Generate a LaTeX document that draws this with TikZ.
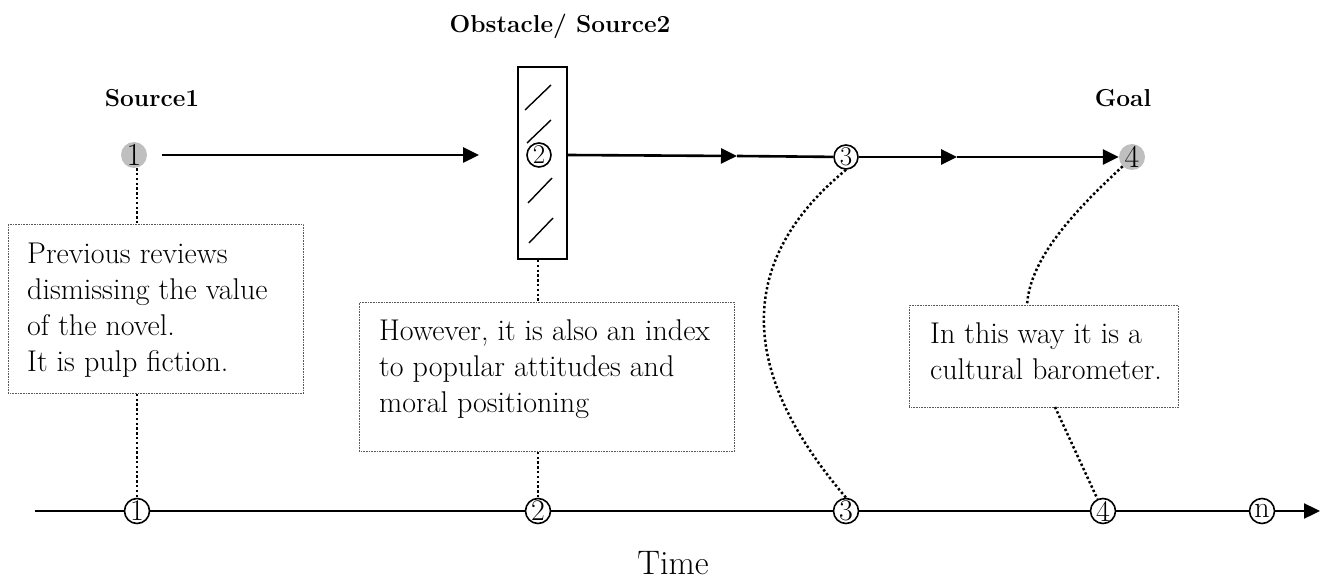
\documentclass[tikz,border=0pt]{standalone}
\usetikzlibrary{arrows.meta}
\begin{document}
\begin{tikzpicture}[x=1pt,y=-1pt,
  mainline/.style={line width=2.6pt},
  tip/.style={-{Triangle[length=16pt,width=15pt]}},
  dotline/.style={line width=2.5pt,dash pattern=on 2.4pt off 2.4pt},
  boxst/.style={draw=black!65,line width=0.8pt,dash pattern=on 0.9pt off 0.7pt,inner sep=0,anchor=north west},
  txt/.style={font=\fontsize{30}{36}\selectfont,align=left,inner sep=0,anchor=north west},
  lbl/.style={font=\bfseries\fontsize{24.5}{28}\selectfont,inner sep=0},
  gcirc/.style={circle,fill=black!25,minimum size=26pt,inner sep=0,font=\fontsize{32}{32}\selectfont},
  ocirc/.style={circle,draw,fill=white,line width=1.6pt,minimum size=24pt,inner sep=0,font=\fontsize{27}{27}\selectfont},
  acirc/.style={circle,draw,fill=white,line width=1.6pt,minimum size=25pt,inner sep=0,font=\fontsize{30}{30}\selectfont},
  obststyle/.style={draw,line width=1.8pt,minimum width=49pt,minimum height=192pt,inner sep=0},
  hatch/.style={line width=1.4pt}
]
\useasboundingbox (0,0) rectangle (1329,580);

% labels
\node[lbl,anchor=base] (src1) at (152,107) {Source1};
\node[lbl,anchor=base] (obsl) at (560,33) {Obstacle/ Source2};
\node[lbl,anchor=base] (goal) at (1123,107) {Goal};

% top row
\node[gcirc] (n1) at (134,155) {1};
\node[obststyle] (obst) at (542.5,163) {};
\draw[hatch] (525,110) -- (551,85);
\draw[hatch] (527,143) -- (551,120);
\draw[hatch] (528,203) -- (552,178);
\draw[hatch] (529,243) -- (553,218);
\node[ocirc] (c2) at (539,155) {2};
\node[ocirc] (c3) at (846,157) {3};
\node[gcirc] (n4) at (1132,157) {4};

\coordinate (s1) at (162,155);
\coordinate (e1) at (479,155);
\coordinate (m1) at (737,156);
\coordinate (m2) at (957,157);

\draw[mainline,tip] (s1) -- (e1);
\draw[mainline,tip] (obst.east |- c2) -- (m1);
\draw[mainline] (m1) -- (c3);
\draw[mainline,tip] (c3) -- (m2);
\draw[mainline,tip] (m2) -- (n4);

% boxes
\node[boxst,minimum width=295pt,minimum height=169pt] (b1) at (8,224) {};
\node[boxst,minimum width=375pt,minimum height=149pt] (b2) at (359,302) {};
\node[boxst,minimum width=269pt,minimum height=102pt] (b3) at (909,305) {};
\node[txt] (t1) at (27,243) {Previous reviews\\dismissing the value\\of the novel.\\It is pulp fiction.};
\node[txt] (t2) at (379,319.5) {However, it is also an index\\to popular attitudes and\\moral positioning};
\node[txt] (t3) at (930,322.5) {In this way it is a\\cultural barometer.};

% time axis
\coordinate (axs) at (35,511);
\coordinate (axe) at (1320,511);
\node[acirc] (a1) at (137,511) {1};
\node[acirc] (a2) at (538,511) {2};
\node[acirc] (a3) at (846,511) {3};
\node[acirc] (a4) at (1103,511) {4};
\node[acirc] (an) at (1262,511) {n};
\draw[line width=2.3pt,tip] (axs) -- (a1) -- (a2) -- (a3) -- (a4) -- (an) -- (axe);
\node[font=\fontsize{34}{34}\selectfont,anchor=base,inner sep=0] (time) at (673,574) {Time};

% dotted connectors
\draw[dotline] (n1.south -| a1) -- (b1.north -| a1);
\draw[dotline] (b1.south -| a1) -- (a1);
\draw[dotline] (obst.south -| a2) -- (b2.north -| a2);
\draw[dotline] (b2.south -| a2) -- (a2);
\draw[dotline] (c3.south) .. controls (700,290) and (780,420) .. (a3.north);
\coordinate (k3) at (1027,305);
\draw[dotline] (n4.-135) .. controls (1070,215) and (1030,260) .. (k3);
\coordinate (k4) at (1055,407);
\draw[dotline] (k4) -- (a4.115);
\end{tikzpicture}
\end{document}
